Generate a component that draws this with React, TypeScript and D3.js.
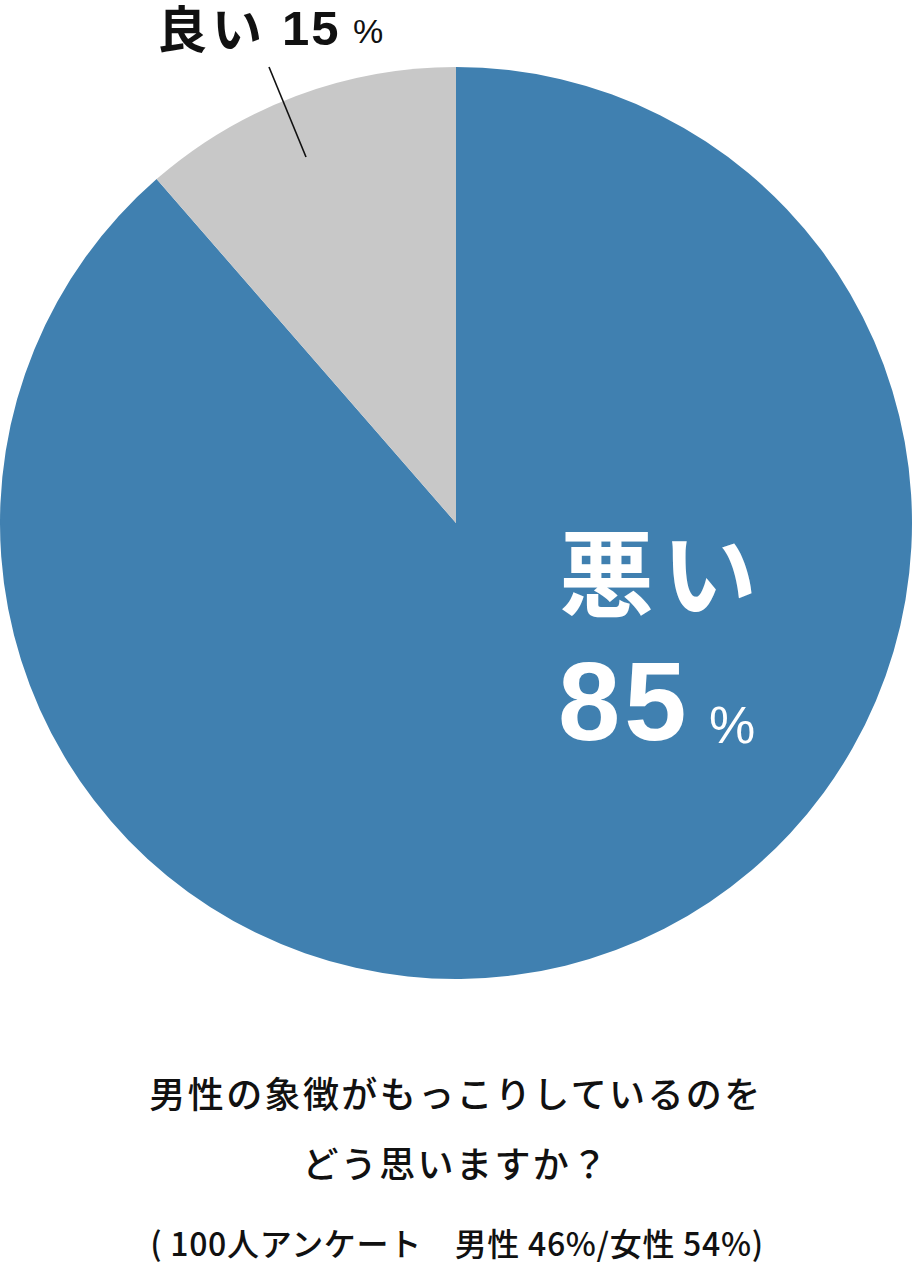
import React from "react";
import * as d3 from "d3";

// Answer categories, shown values (labels) and drawn slice shares
const categories = ["悪い", "良い"];
const percentLabels = ["85", "15"];
const drawnShares = [88.6, 11.4];
const sliceColors = ["#4080b0", "#c8c8c8"];

const titleLines = ["男性の象徴がもっこりしているのを", "どう思いますか？"];
const noteLine = "( 100人アンケート　男性 46%/女性 54%)";

const W = 912;
const H = 1264;
const cx = 456;
const cy = 523;
const R = 456;

const FONT = "'Liberation Sans', 'Noto Sans CJK JP', sans-serif";
const JP = "'Noto Sans CJK JP', sans-serif";

export default function App() {
  const data = categories.map((c, i) => ({ c, v: drawnShares[i], color: sliceColors[i] }));
  const pie = d3.pie<any>().value((d) => d.v).sort(null).startAngle(0).endAngle(2 * Math.PI);
  const arc = d3.arc<any>().innerRadius(0).outerRadius(R);
  const arcs = pie(data);

  return (
    <svg width={W} height={H} style={{ position: "absolute", left: 0, top: 0, background: "#fff" }}>
      <g transform={`translate(${cx},${cy})`}>
        {arcs.map((a, i) => (
          <path key={i} d={arc(a) as string} fill={a.data.color} />
        ))}
      </g>
      <line x1={269} y1={67} x2={306} y2={157} stroke="#111" strokeWidth={1.6} />

      {/* 良い 15% */}
      <text x={157} y={48} fontFamily={JP} fontWeight={700} fontSize={50} fill="#111" letterSpacing={5}>{categories[1]}</text>
      <text x={282} y={45} fontFamily={FONT} fontWeight={700} fontSize={49} fill="#111" letterSpacing={2}>{percentLabels[1]}</text>
      <text x={353} y={43} fontFamily={FONT} fontWeight={400} fontSize={34} fill="#111">%</text>

      {/* 悪い 85% */}
      <text x={559} y={610} fontFamily={JP} fontWeight={700} fontSize={95} fill="#fff" letterSpacing={8}>{categories[0]}</text>
      <text x={558} y={740} fontFamily={FONT} fontWeight={700} fontSize={112} fill="#fff" letterSpacing={4}>{percentLabels[0]}</text>
      <text x={709} y={743} fontFamily={FONT} fontWeight={400} fontSize={52} fill="#fff">%</text>

      {/* Title */}
      {titleLines.map((t, i) => (
        <text key={i} x={456} y={1108 + i * 70} textAnchor="middle" fontFamily={JP} fontWeight={500} fontSize={36} letterSpacing={2.4} fill="#111">{t}</text>
      ))}
      <text x={457} y={1256} textAnchor="middle" fontFamily={JP} fontWeight={500} fontSize={32} letterSpacing={0.7} fill="#111">{noteLine}</text>
    </svg>
  );
}
